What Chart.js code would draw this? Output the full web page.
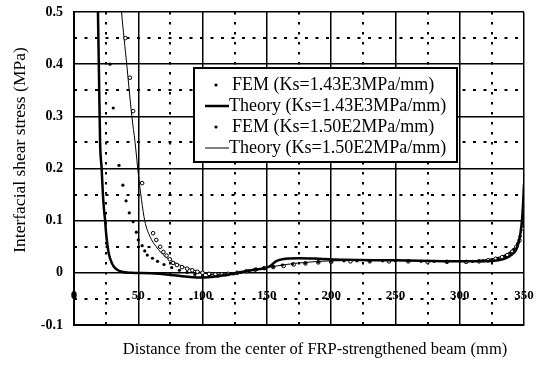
<!DOCTYPE html>
<html>
<head>
<meta charset="utf-8">
<script src="https://cdn.jsdelivr.net/npm/chart.js@4"></script>
<style>
  body { margin: 0; background: #fff; }
  #wrap { width: 545px; height: 365px; }
</style>
</head>
<body>
<div id="wrap"><canvas id="shearChart" width="545" height="365"></canvas></div>
<script>
// Theory, Ks = 1.43E3 MPa/mm (thick line)
const theoryAx = [18.3, 19.3, 20.3, 21.5, 22.5, 23.4, 24.2, 25, 26, 27.2, 29.4, 32, 37, 45, 60, 75, 90, 100, 110, 125, 140, 150, 153, 157, 162, 175, 190, 210, 250, 300, 320, 330, 336, 340, 344, 346, 348, 349, 350];
const theoryAy = [0.55, 0.4, 0.25, 0.2, 0.15, 0.12, 0.1, 0.075, 0.053, 0.035, 0.019, 0.009, 0.002, 0, -0.001, -0.004, -0.008, -0.009, -0.007, -0.001, 0.006, 0.01, 0.014, 0.022, 0.026, 0.028, 0.027, 0.025, 0.024, 0.022, 0.022, 0.024, 0.028, 0.034, 0.045, 0.06, 0.09, 0.12, 0.17];

// Theory, Ks = 1.50E2 MPa/mm (thin line)
const theoryBx = [35.5, 37, 41, 45, 47.5, 50, 52.5, 55, 59, 64, 71, 79, 87, 95, 100, 106, 112, 120, 130, 140, 150, 165, 180, 200, 250, 300, 315, 325, 332, 338, 342, 345, 347, 348.5, 349.5, 350];
const theoryBy = [0.55, 0.5, 0.4, 0.3, 0.25, 0.19, 0.14, 0.1, 0.07, 0.05, 0.031, 0.019, 0.01, 0.004, 0.0, -0.003, -0.004, -0.003, 0.001, 0.006, 0.01, 0.016, 0.02, 0.023, 0.024, 0.023, 0.024, 0.027, 0.031, 0.038, 0.046, 0.057, 0.072, 0.092, 0.12, 0.15];

// FEM, Ks = 1.43E3 MPa/mm
const femAx = [28, 30.5, 35, 38, 40.5, 43, 46, 48.5, 50, 53, 55, 57, 61, 65, 70, 76, 82, 88, 94, 100, 106, 112, 118, 124, 130, 136, 142, 148, 155, 162, 170, 180, 190, 200, 210, 220, 230, 240, 250, 260, 270, 280, 290, 300, 310, 318, 325, 330, 335, 339, 342, 345, 347, 349, 350];
const femAy = [0.40, 0.316, 0.206, 0.168, 0.138, 0.115, 0.098, 0.078, 0.063, 0.052, 0.042, 0.034, 0.028, 0.022, 0.016, 0.01, 0.005, 0.001, -0.003, -0.006, -0.007, -0.006, -0.004, -0.002, 0.001, 0.004, 0.007, 0.009, 0.012, 0.015, 0.017, 0.019, 0.021, 0.022, 0.023, 0.023, 0.023, 0.023, 0.023, 0.023, 0.022, 0.022, 0.022, 0.022, 0.022, 0.023, 0.025, 0.028, 0.032, 0.038, 0.045, 0.056, 0.07, 0.1, 0.13];

// FEM, Ks = 1.50E2 MPa/mm
const femBx = [40, 43.5, 46, 53, 61.5, 64, 67, 69.5, 72, 74.5, 77, 80, 84, 88, 92, 96, 100, 105, 110, 115, 120, 127, 134, 141, 148, 155, 163, 171, 180, 190, 200, 215, 230, 245, 260, 275, 290, 305, 315, 322, 328, 333, 337, 341, 344, 346.5, 348.5, 350];
const femBy = [0.45, 0.374, 0.31, 0.172, 0.076, 0.063, 0.05, 0.04, 0.033, 0.026, 0.019, 0.015, 0.011, 0.008, 0.005, 0.002, 0.0, -0.002, -0.003, -0.003, -0.002, 0.0, 0.003, 0.006, 0.009, 0.011, 0.013, 0.016, 0.018, 0.02, 0.021, 0.022, 0.022, 0.022, 0.022, 0.021, 0.021, 0.021, 0.022, 0.024, 0.027, 0.03, 0.034, 0.041, 0.05, 0.062, 0.085, 0.12];

const xTicks = [0, 50, 100, 150, 200, 250, 300, 350];
const yTicks = [-0.1, 0, 0.1, 0.2, 0.3, 0.4, 0.5];

const seriesLabels = [
  'FEM (Ks=1.43E3MPa/mm)',
  'Theory (Ks=1.43E3MPa/mm)',
  'FEM (Ks=1.50E2MPa/mm)',
  'Theory (Ks=1.50E2MPa/mm)'
];
const xTitle = 'Distance from the center of FRP-strengthened beam (mm)';
const yTitle = 'Interfacial shear stress (MPa)';

function pairs(xs, ys) {
  return xs.map((x, i) => ({ x: x, y: ys[i] }));
}

const serif = '"Liberation Serif", "DejaVu Serif", serif';
Chart.defaults.font.family = serif;
Chart.defaults.color = '#000';

// legend box and axis titles drawn on top
const boxPlugin = {
  id: 'boxLegend',
  afterDatasetsDraw(chart) {
    const ctx = chart.ctx;
    ctx.save();
    ctx.fillStyle = '#fff';
    ctx.fillRect(194, 68, 263, 94);
    ctx.strokeStyle = '#000';
    ctx.lineWidth = 2;
    ctx.strokeRect(194, 68, 263, 94);
    ctx.font = '18px ' + serif;
    ctx.textBaseline = 'middle';
    ctx.fillStyle = '#000';
    const rows = [85, 106, 127, 148];
    chart.data.datasets.forEach((ds, i) => {
      const y = rows[i];
      if (ds.showLine === false) {
        ctx.beginPath();
        ctx.arc(216, y, 1.6, 0, Math.PI * 2);
        ctx.fill();
        ctx.fillText(ds.label, 232, y);
      } else {
        ctx.beginPath();
        ctx.lineWidth = ds.borderWidth;
        ctx.moveTo(205, y);
        ctx.lineTo(229, y);
        ctx.stroke();
        ctx.fillText(ds.label, 229, y);
      }
    });
    ctx.restore();
  },
  afterDraw(chart) {
    const ctx = chart.ctx;
    ctx.save();
    ctx.fillStyle = '#000';
    ctx.textAlign = 'center';
    ctx.textBaseline = 'middle';
    ctx.font = '16.5px ' + serif;
    ctx.fillText(xTitle, 315, 350);
    ctx.translate(20, 150);
    ctx.rotate(-Math.PI / 2);
    ctx.font = '17.5px ' + serif;
    ctx.fillText(yTitle, 0, 0);
    ctx.restore();
  }
};

const minorColorX = c => (Math.round(c.tick.value) % 50 === 0 ? 'rgba(0,0,0,0)' : '#000');
const minorColorY = c => (Math.round(c.tick.value * 100) % 10 === 0 ? 'rgba(0,0,0,0)' : '#000');

new Chart(document.getElementById('shearChart').getContext('2d'), {
  type: 'scatter',
  data: {
    datasets: [
      {
        label: seriesLabels[0],
        data: pairs(femAx, femAy),
        showLine: false,
        pointRadius: 1.6,
        pointBackgroundColor: '#000',
        pointBorderWidth: 0
      },
      {
        label: seriesLabels[1],
        data: pairs(theoryAx, theoryAy),
        showLine: true,
        borderColor: '#000',
        borderWidth: 2.5,
        pointRadius: 0,
        cubicInterpolationMode: 'monotone'
      },
      {
        label: seriesLabels[2],
        data: pairs(femBx, femBy),
        showLine: false,
        pointRadius: 1.8,
        pointBackgroundColor: '#fff',
        pointBorderColor: '#000',
        pointBorderWidth: 1
      },
      {
        label: seriesLabels[3],
        data: pairs(theoryBx, theoryBy),
        showLine: true,
        borderColor: '#000',
        borderWidth: 1,
        pointRadius: 0,
        cubicInterpolationMode: 'monotone'
      }
    ]
  },
  options: {
    responsive: false,
    animation: false,
    devicePixelRatio: 1,
    layout: { padding: { left: 0, top: 12, right: 21, bottom: 0 } },
    plugins: {
      legend: { display: false },
      tooltip: { enabled: false }
    },
    scales: {
      x: {
        type: 'linear',
        position: 'bottom',
        min: 0,
        max: 350,
        afterBuildTicks: s => { s.ticks = xTicks.map(v => ({ value: v })); },
        afterFit: s => { s.height = 40; s.paddingLeft = 0; s.paddingRight = 0; },
        ticks: {
          mirror: true,
          padding: 22,
          font: { size: 13, weight: 'bold' },
          maxRotation: 0,
          autoSkip: false
        },
        grid: { color: '#000', lineWidth: 1.5, drawTicks: false },
        border: { display: true, color: '#000', width: 2 }
      },
      x2: {
        type: 'linear',
        position: 'bottom',
        min: 0,
        max: 350,
        ticks: { display: false, stepSize: 25 },
        afterFit: s => { s.height = 0; s.paddingLeft = 0; s.paddingRight = 0; },
        grid: { color: minorColorX, lineWidth: 2, drawTicks: false, borderDash: [2.5, 7.5] },
        border: { display: false, dash: [2.5, 7.5] }
      },
      y: {
        type: 'linear',
        position: 'left',
        min: -0.1,
        max: 0.5,
        afterBuildTicks: s => { s.ticks = yTicks.map(v => ({ value: v })); },
        afterFit: s => { s.width = 74; s.paddingTop = 0; s.paddingBottom = 0; },
        ticks: {
          padding: 11,
          font: { size: 14, weight: 'bold' },
          callback: v => (Math.abs(v) < 1e-9 ? '0' : String(Math.round(v * 10) / 10))
        },
        grid: { color: '#000', lineWidth: 1.5, drawTicks: false },
        border: { display: true, color: '#000', width: 2 }
      },
      y2: {
        type: 'linear',
        position: 'left',
        min: -0.1,
        max: 0.5,
        ticks: { display: false, stepSize: 0.05 },
        afterFit: s => { s.width = 0; s.paddingTop = 0; s.paddingBottom = 0; },
        grid: { color: minorColorY, lineWidth: 2, drawTicks: false, borderDash: [3, 7.5] },
        border: { display: false, dash: [3, 7.5] }
      }
    }
  },
  plugins: [boxPlugin]
});
</script>
</body>
</html>
